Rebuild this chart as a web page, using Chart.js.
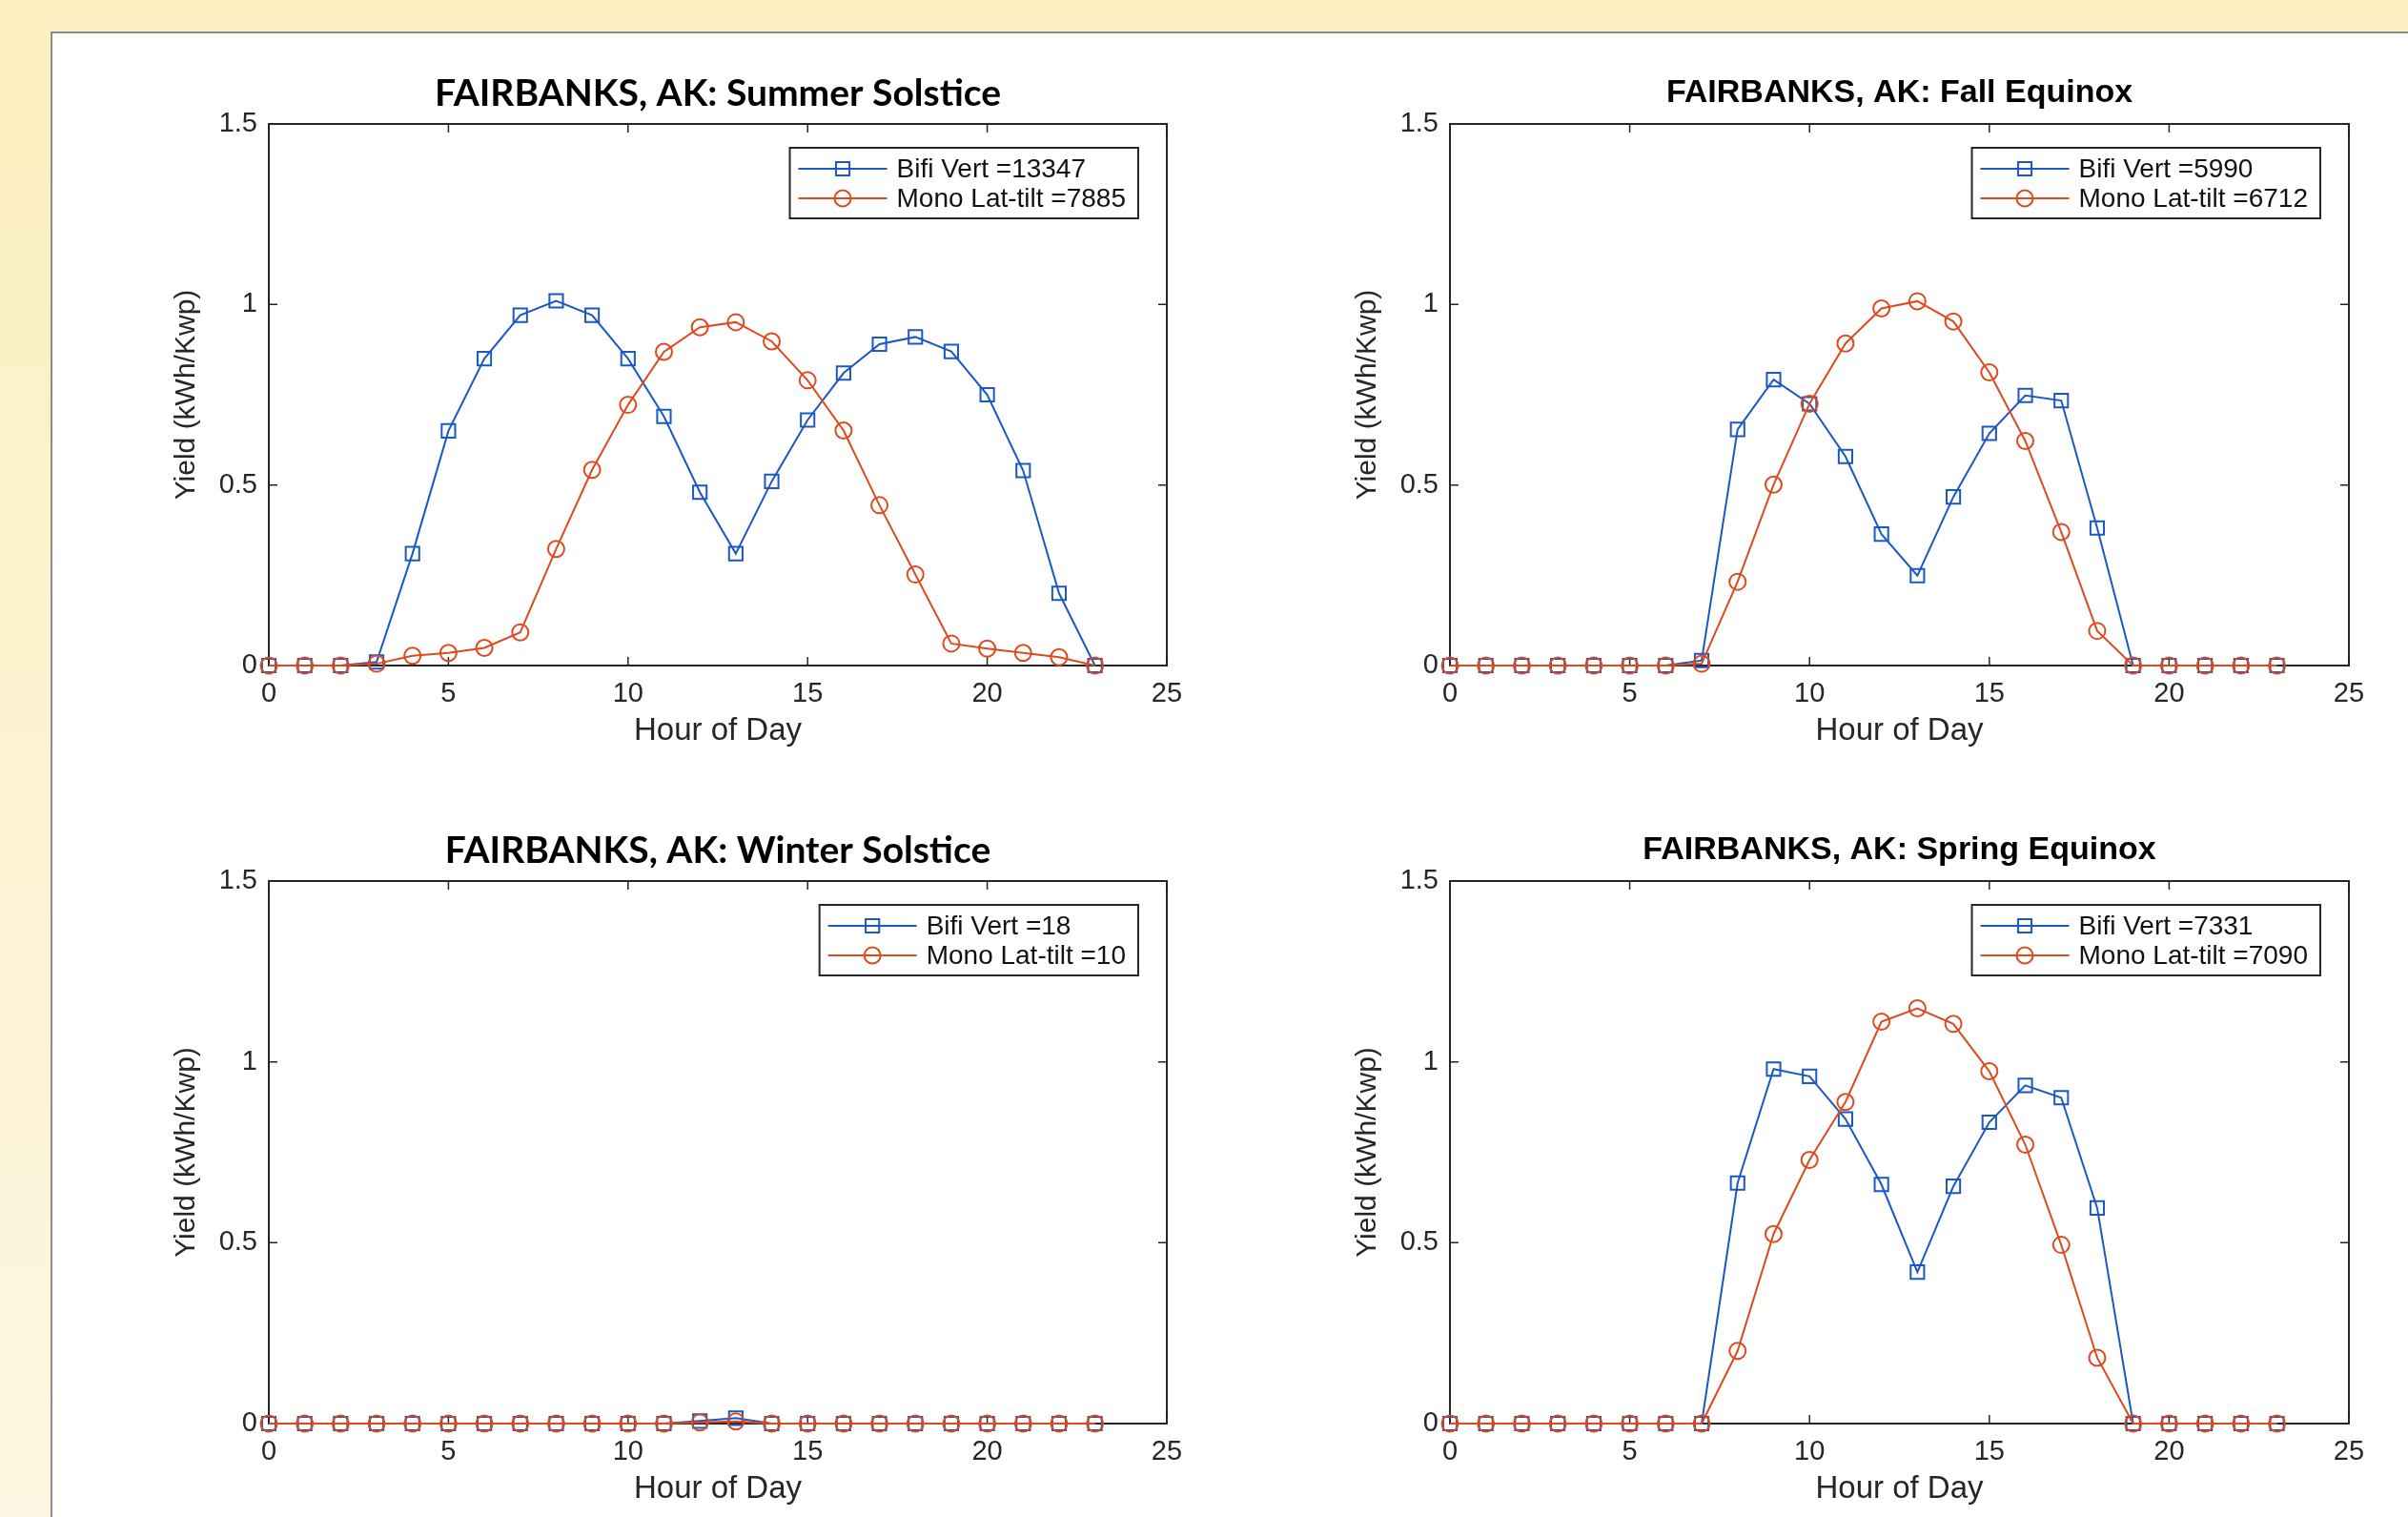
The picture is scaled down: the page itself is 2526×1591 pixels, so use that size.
<!DOCTYPE html>
<html>
<head>
<meta charset="utf-8">
<title>Fairbanks, AK yield</title>
<script src="https://cdn.jsdelivr.net/npm/chart.js@4.4.1/dist/chart.umd.min.js"></script>
<style>
  html, body { margin: 0; padding: 0; width: 2526px; height: 1591px; overflow: hidden; background: #fcf0c2; }
  #leftStrip { position: absolute; left: 0; top: 33px; width: 53px; height: 1558px; background: linear-gradient(#fcefc0, #fdf6e2); }
  #panel { position: absolute; left: 53px; top: 33px; width: 2473px; height: 1558px; background: #fff;
           border-left: 2px solid #8c8c8c; border-top: 2px solid #8c8c8c; box-sizing: border-box; }
  canvas { position: absolute; }
</style>
</head>
<body>
<div id="leftStrip"></div>
<div id="panel"></div>
<canvas id="summer"></canvas>
<canvas id="fall"></canvas>
<canvas id="winter"></canvas>
<canvas id="spring"></canvas>
<script>
// ---- data ----
var hours = [0, 1, 2, 3, 4, 5, 6, 7, 8, 9, 10, 11, 12, 13, 14, 15, 16, 17, 18, 19, 20, 21, 22, 23];

var summerBifi = [0, 0, 0, 0.01, 0.31, 0.65, 0.85, 0.97, 1.01, 0.97, 0.85, 0.69, 0.48, 0.31, 0.51, 0.68, 0.81, 0.89, 0.91, 0.87, 0.75, 0.54, 0.2, 0];
var summerMono = [0, 0, 0, 0.005, 0.027, 0.035, 0.049, 0.092, 0.323, 0.542, 0.722, 0.869, 0.937, 0.951, 0.898, 0.79, 0.651, 0.444, 0.252, 0.061, 0.047, 0.035, 0.023, 0];

var fallBifi = [0, 0, 0, 0, 0, 0, 0, 0.014, 0.654, 0.792, 0.725, 0.579, 0.364, 0.249, 0.467, 0.643, 0.748, 0.734, 0.381, 0, 0, 0, 0, 0];
var fallMono = [0, 0, 0, 0, 0, 0, 0, 0.005, 0.232, 0.501, 0.725, 0.892, 0.989, 1.009, 0.953, 0.812, 0.622, 0.37, 0.096, 0, 0, 0, 0, 0];

var winterBifi = [0, 0, 0, 0, 0, 0, 0, 0, 0, 0, 0, 0, 0.007, 0.015, 0, 0, 0, 0, 0, 0, 0, 0, 0, 0];
var winterMono = [0, 0, 0, 0, 0, 0, 0, 0, 0, 0, 0, 0, 0.003, 0.006, 0, 0, 0, 0, 0, 0, 0, 0, 0, 0];

var springBifi = [0, 0, 0, 0, 0, 0, 0, 0, 0.665, 0.98, 0.96, 0.842, 0.661, 0.419, 0.656, 0.833, 0.935, 0.901, 0.596, 0, 0, 0, 0, 0];
var springMono = [0, 0, 0, 0, 0, 0, 0, 0, 0.201, 0.524, 0.729, 0.889, 1.111, 1.148, 1.105, 0.974, 0.771, 0.494, 0.182, 0, 0, 0, 0, 0];

var titles = ["FAIRBANKS, AK: Summer Solstice", "FAIRBANKS, AK: Fall Equinox",
              "FAIRBANKS, AK: Winter Solstice", "FAIRBANKS, AK: Spring Equinox"];
var bifiTotals = [13347, 5990, 18, 7331];
var monoTotals = [7885, 6712, 10, 7090];
var xTicks = [0, 5, 10, 15, 20, 25];
var yTicks = [0, 0.5, 1, 1.5];

// ---- layout: plot box of each panel in page pixels [left, top, right, bottom] ----
var boxes = [[282, 130, 1224, 698], [1521, 130, 2464, 698], [282, 924, 1224, 1493], [1521, 924, 2464, 1493]];
var titleFonts = ['Lato', '"Liberation Sans"', 'Lato', '"Liberation Sans"'];
var titleSizes = [39, 34, 39, 34];
var AXIS_W = 152, AXIS_H = 101, TOP_H = 70, TITLE_GAP = 32;
var BLUE = '#1a58c4', RED = '#de4a1d', INK = '#262626';
var FONT = '"Liberation Sans", Arial, sans-serif';

// title centred over the plot box (not over the whole canvas)
var boxTitle = {
    id: 'boxTitle',
    afterDraw: function(chart, args, opts){
        var ctx = chart.ctx, a = chart.chartArea;
        ctx.save();
        ctx.font = 'bold ' + opts.size + 'px ' + opts.family;
        ctx.fillStyle = '#000';
        ctx.textAlign = 'center';
        ctx.textBaseline = 'middle';
        ctx.fillText(opts.text, (a.left + a.right) / 2, a.top - TITLE_GAP);
        ctx.restore();
    }
};

// draws the MATLAB style box with inward ticks on every side
var matlabFrame = {
    id: 'matlabFrame',
    beforeDatasetsDraw: function(chart){
        var ctx = chart.ctx, a = chart.chartArea, x = chart.scales.x, y = chart.scales.y;
        ctx.save();
        ctx.strokeStyle = INK;
        ctx.lineWidth = 2;
        ctx.strokeRect(a.left, a.top, a.right - a.left, a.bottom - a.top);
        ctx.lineWidth = 1.5;
        ctx.beginPath();
        x.ticks.forEach(function(t){
            var px = x.getPixelForValue(t.value);
            ctx.moveTo(px, a.bottom); ctx.lineTo(px, a.bottom - 9);
            ctx.moveTo(px, a.top); ctx.lineTo(px, a.top + 9);
        });
        y.ticks.forEach(function(t){
            var py = y.getPixelForValue(t.value);
            ctx.moveTo(a.left, py); ctx.lineTo(a.left + 9, py);
            ctx.moveTo(a.right, py); ctx.lineTo(a.right - 9, py);
        });
        ctx.stroke();
        ctx.restore();
    }
};

function drawMarker(ctx, style, r, cx, cy){
    ctx.beginPath();
    if(style === 'rect'){
        var s = r * Math.SQRT1_2;
        ctx.rect(cx - s, cy - s, 2 * s, 2 * s);
    } else {
        ctx.arc(cx, cy, r, 0, Math.PI * 2);
    }
    ctx.stroke();
}

// boxed legend in the upper right corner of the plot box
var boxLegend = {
    id: 'boxLegend',
    afterDatasetsDraw: function(chart){
        var ctx = chart.ctx, a = chart.chartArea, sets = chart.data.datasets;
        ctx.save();
        ctx.font = '28px ' + FONT;
        var textW = 0;
        sets.forEach(function(d){ textW = Math.max(textW, ctx.measureText(d.label).width); });
        var boxW = 9 + 93 + 10 + textW + 13, boxH = 74;
        var bx = a.right - 30 - boxW, by = a.top + 25;
        ctx.fillStyle = '#fff';
        ctx.fillRect(bx, by, boxW, boxH);
        ctx.strokeStyle = INK;
        ctx.lineWidth = 2;
        ctx.strokeRect(bx, by, boxW, boxH);
        sets.forEach(function(d, i){
            var cy = by + 22 + i * 31;
            ctx.strokeStyle = d.borderColor;
            ctx.lineWidth = 2;
            ctx.beginPath();
            ctx.moveTo(bx + 9, cy); ctx.lineTo(bx + 102, cy);
            ctx.stroke();
            drawMarker(ctx, d.pointStyle, d.pointRadius, bx + 55.5, cy);
            ctx.fillStyle = '#111';
            ctx.textBaseline = 'middle';
            ctx.textAlign = 'left';
            ctx.fillText(d.label, bx + 112, cy + 1);
        });
        ctx.restore();
    }
};

function points(values){
    var out = [];
    for(var i = 0; i < hours.length; i++){
        out.push({x: hours[i], y: values[i]});
    }
    return out;
}

var series = [[summerBifi, summerMono], [fallBifi, fallMono], [winterBifi, winterMono], [springBifi, springMono]];
var ids = ['summer', 'fall', 'winter', 'spring'];

for(var k = 0; k < 4; k++){
    var b = boxes[k];
    var cv = document.getElementById(ids[k]);
    cv.width = (b[2] - b[0]) + 2 * AXIS_W;
    cv.height = (b[3] - b[1]) + TOP_H + AXIS_H;
    cv.style.left = (b[0] - AXIS_W) + 'px';
    cv.style.top = (b[1] - TOP_H) + 'px';

    new Chart(cv.getContext('2d'), {
        type: 'line',
        data: {
            datasets: [
                {
                    label: 'Bifi Vert =' + bifiTotals[k],
                    data: points(series[k][0]),
                    borderColor: BLUE,
                    backgroundColor: 'rgba(0,0,0,0)',
                    borderWidth: 2,
                    pointStyle: 'rect',
                    pointRadius: 10,
                    pointBorderWidth: 2,
                    pointBorderColor: BLUE,
                    pointBackgroundColor: 'rgba(0,0,0,0)',
                    lineTension: 0,
                    clip: false,
                    order: 1
                },
                {
                    label: 'Mono Lat-tilt =' + monoTotals[k],
                    data: points(series[k][1]),
                    borderColor: RED,
                    backgroundColor: 'rgba(0,0,0,0)',
                    borderWidth: 2,
                    pointStyle: 'circle',
                    pointRadius: 8.5,
                    pointBorderWidth: 2,
                    pointBorderColor: RED,
                    pointBackgroundColor: 'rgba(0,0,0,0)',
                    lineTension: 0,
                    clip: false,
                    order: 0
                }
            ]
        },
        options: {
            responsive: false,
            animation: false,
            devicePixelRatio: 1,
            layout: { padding: { left: 0, right: AXIS_W, top: TOP_H, bottom: 0 } },
            plugins: {
                legend: { display: false },
                tooltip: { enabled: false },
                title: { display: false },
                boxTitle: { text: titles[k], family: titleFonts[k], size: titleSizes[k] }
            },
            scales: {
                x: {
                    type: 'linear',
                    min: 0, max: 25,
                    afterBuildTicks: function(scale){ scale.ticks = xTicks.map(function(v){ return {value: v}; }); },
                    afterFit: function(scale){ scale.height = AXIS_H; },
                    grid: { display: false, drawTicks: false },
                    border: { display: false },
                    ticks: { color: INK, padding: 13, maxRotation: 0,
                             callback: function(v){ return String(v); },
                             font: { family: FONT, size: 29 } },
                    title: { display: true, text: 'Hour of Day', color: INK,
                             font: { family: FONT, size: 33 },
                             padding: { top: 0, bottom: 12 } }
                },
                y: {
                    min: 0, max: 1.5,
                    afterBuildTicks: function(scale){ scale.ticks = yTicks.map(function(v){ return {value: v}; }); },
                    afterFit: function(scale){ scale.width = AXIS_W; },
                    grid: { display: false, drawTicks: false },
                    border: { display: false },
                    ticks: { color: INK, padding: 12,
                             callback: function(v){ return String(v); },
                             font: { family: FONT, size: 29 } },
                    title: { display: true, text: 'Yield (kWh/Kwp)', color: INK,
                             font: { family: FONT, size: 30 },
                             padding: { top: 48, bottom: 0 } }
                }
            }
        },
        plugins: [matlabFrame, boxLegend, boxTitle]
    });
}
</script>
</body>
</html>
